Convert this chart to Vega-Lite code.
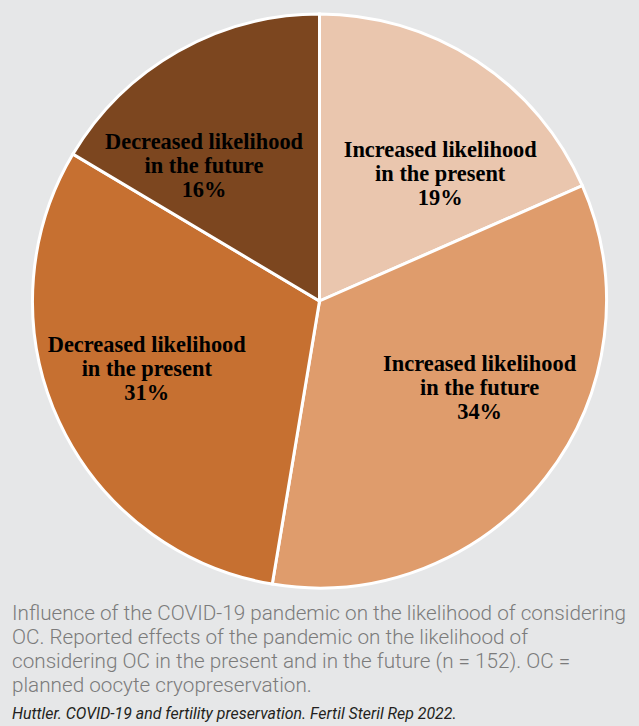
{
  "$schema": "https://vega.github.io/schema/vega-lite/v6.json",
  "width": 575,
  "height": 576,
  "autosize": {"type": "none"},
  "padding": {"left": 32, "top": 13, "right": 32, "bottom": 137},
  "background": "#e6e7e8",
  "config": {"view": {"fill": "white", "stroke": null}},
  "title": {
    "text": ["Influence of the COVID-19 pandemic on the likelihood of considering", "OC. Reported effects of the pandemic on the likelihood of", "considering OC in the present and in the future (n = 152). OC =", "planned oocyte cryopreservation."],
    "subtitle": "Huttler. COVID-19 and fertility preservation. Fertil Steril Rep 2022.",
    "orient": "bottom",
    "anchor": "start",
    "frame": "group",
    "dx": -20,
    "offset": 10,
    "font": "Roboto",
    "fontSize": 20.7,
    "fontWeight": 300,
    "color": "#7b7b7b",
    "lineHeight": 24,
    "baseline": "top",
    "subtitleFont": "Roboto",
    "subtitleFontSize": 15.9,
    "subtitleFontStyle": "italic",
    "subtitleColor": "#231f20",
    "subtitlePadding": 9
  },
  "data": {
    "values": [
      {"category": "Increased likelihood\nin the present", "count": 28, "pct": 19, "order": 1},
      {"category": "Increased likelihood\nin the future", "count": 52, "pct": 34, "order": 2},
      {"category": "Decreased likelihood\nin the present", "count": 47, "pct": 31, "order": 3},
      {"category": "Decreased likelihood\nin the future", "count": 25, "pct": 16, "order": 4}
    ]
  },
  "transform": [{"calculate": "datum.category + '\\n' + datum.pct + '%'", "as": "label"}],
  "encoding": {
    "theta": {"field": "count", "type": "quantitative", "stack": true},
    "order": {"field": "order", "type": "quantitative"}
  },
  "layer": [
    {
      "mark": {"type": "arc", "outerRadius": 287, "stroke": "white", "strokeWidth": 3},
      "encoding": {
        "color": {
          "field": "category",
          "type": "nominal",
          "scale": {
            "domain": ["Increased likelihood\nin the present", "Increased likelihood\nin the future", "Decreased likelihood\nin the present", "Decreased likelihood\nin the future"],
            "range": ["#eac6ae", "#df9c6c", "#c67031", "#7c461f"]
          },
          "legend": null
        }
      }
    },
    {
      "mark": {"type": "text", "radius": 175, "dx": 25, "dy": -4, "font": "Liberation Serif", "fontWeight": "bold", "fontSize": 22.4, "lineHeight": 24, "lineBreak": "\n", "color": "black", "align": "center", "baseline": "middle"},
      "encoding": {"text": {"condition": {"test": "datum.order == 1", "field": "label"}, "value": ""}}
    },
    {
      "mark": {"type": "text", "radius": 175, "dx": 22, "dy": -44, "font": "Liberation Serif", "fontWeight": "bold", "fontSize": 22.4, "lineHeight": 24, "lineBreak": "\n", "color": "black", "align": "center", "baseline": "middle"},
      "encoding": {"text": {"condition": {"test": "datum.order == 2", "field": "label"}, "value": ""}}
    },
    {
      "mark": {"type": "text", "radius": 175, "dx": -14, "dy": -30, "font": "Liberation Serif", "fontWeight": "bold", "fontSize": 22.4, "lineHeight": 24, "lineBreak": "\n", "color": "black", "align": "center", "baseline": "middle"},
      "encoding": {"text": {"condition": {"test": "datum.order == 3", "field": "label"}, "value": ""}}
    },
    {
      "mark": {"type": "text", "radius": 175, "dx": -29, "dy": -7, "font": "Liberation Serif", "fontWeight": "bold", "fontSize": 22.4, "lineHeight": 24, "lineBreak": "\n", "color": "black", "align": "center", "baseline": "middle"},
      "encoding": {"text": {"condition": {"test": "datum.order == 4", "field": "label"}, "value": ""}}
    }
  ]
}
